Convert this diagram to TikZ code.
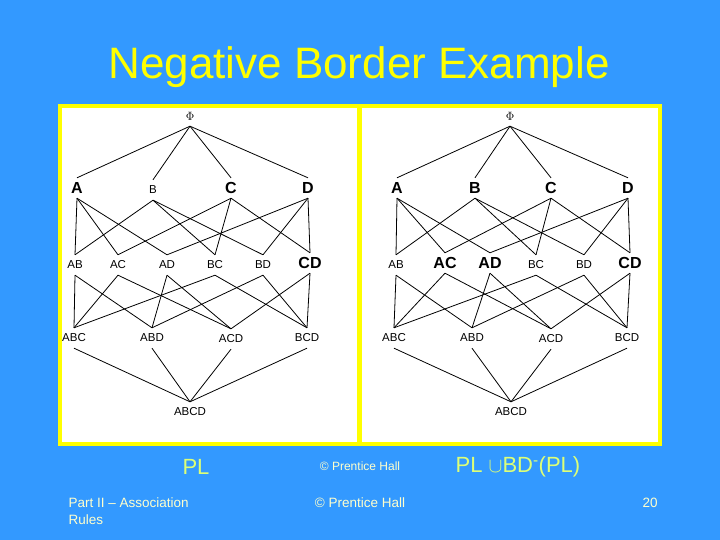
\documentclass[tikz,border=0pt]{standalone}
\usepackage{fontspec}
\setmainfont{Liberation Sans}
\begin{document}
\begin{tikzpicture}[x=1pt,y=-1pt,
  lab/.style={inner sep=0pt,minimum height=20pt,font=\fontsize{11.5}{12}\selectfont},
  big/.style={lab,font=\bfseries\fontsize{16}{16}\selectfont},
  edge/.style={line width=0.8pt}]
\definecolor{bg}{HTML}{3399FF}
\definecolor{ttl}{HTML}{FFFF00}
\definecolor{foot}{HTML}{FFFFCC}
\definecolor{pl}{HTML}{DDFF77}
\fill[bg] (0,0) rectangle (720,540);
\useasboundingbox (0,0) rectangle (720,540);
\node[text=ttl,font=\fontsize{44}{46}\selectfont] (title) at (359,67) {Negative Border Example};
\fill[ttl] (58,104) rectangle (662,446);
\fill[white] (62,108) rectangle (357,442);
\fill[white] (362,108) rectangle (658,442);
% left lattice
\node[lab] (LP) at (190,116) {$\Phi$};
\node[big] (LA) at (77,188) {A};
\node[lab] (LB) at (153,190) {B};
\node[big] (LC) at (231,188) {C};
\node[big] (LD) at (308,188) {D};
\node[lab] (LAB) at (75,265) {AB};
\node[lab] (LAC) at (118,265) {AC};
\node[lab] (LAD) at (167,265) {AD};
\node[lab] (LBC) at (215,265) {BC};
\node[lab] (LBD) at (263,265) {BD};
\node[big] (LCD) at (310,263) {CD};
\node[lab] (LABC) at (74,338) {ABC};
\node[lab] (LABD) at (152,338) {ABD};
\node[lab] (LACD) at (231,339) {ACD};
\node[lab] (LBCD) at (307,338) {BCD};
\node[lab] (LABCD) at (190,412) {ABCD};
% right lattice
\node[lab] (RP) at (510,116) {$\Phi$};
\node[big] (RA) at (397,188) {A};
\node[big] (RB) at (475,188) {B};
\node[big] (RC) at (551,188) {C};
\node[big] (RD) at (628,188) {D};
\node[lab] (RAB) at (396,265) {AB};
\node[big] (RAC) at (445,263) {AC};
\node[big] (RAD) at (490,263) {AD};
\node[lab] (RBC) at (536,265) {BC};
\node[lab] (RBD) at (584,265) {BD};
\node[big] (RCD) at (630,263) {CD};
\node[lab] (RABC) at (394,338) {ABC};
\node[lab] (RABD) at (472,338) {ABD};
\node[lab] (RACD) at (551,339) {ACD};
\node[lab] (RBCD) at (627,338) {BCD};
\node[lab] (RABCD) at (511,412) {ABCD};
\foreach \s in {L,R}{
  \foreach \a/\b in {P/A,P/B,P/C,P/D,
     A/AB,A/AC,A/AD,B/AB,B/BC,B/BD,C/AC,C/BC,C/CD,D/AD,D/BD,D/CD,
     AB/ABC,AB/ABD,AC/ABC,AC/ACD,AD/ABD,AD/ACD,BC/ABC,BC/BCD,BD/ABD,BD/BCD,CD/ACD,CD/BCD,
     ABC/ABCD,ABD/ABCD,ACD/ABCD,BCD/ABCD}
    \draw[edge] (\s\a.south) -- (\s\b.north);
}
\node[text=pl,font=\fontsize{22}{24}\selectfont] (pl1) at (196,467) {PL};
\node[text=foot,font=\fontsize{12}{14}\selectfont] (cp1) at (360,466) {\textcopyright\ Prentice Hall};
\node[text=pl,font=\fontsize{22}{24}\selectfont] (pl2) at (518,467) {PL $\cup$BD\textsuperscript{-}(PL)};
\node[text=foot,font=\fontsize{13.5}{17}\selectfont,align=left,anchor=north west] (f1) at (65,494) {Part II -- Association\\Rules};
\node[text=foot,font=\fontsize{13.5}{16}\selectfont] (f2) at (360,503) {\textcopyright\ Prentice Hall};
\node[text=foot,font=\fontsize{13.5}{16}\selectfont] (f3) at (650,503) {20};
\end{tikzpicture}
\end{document}
